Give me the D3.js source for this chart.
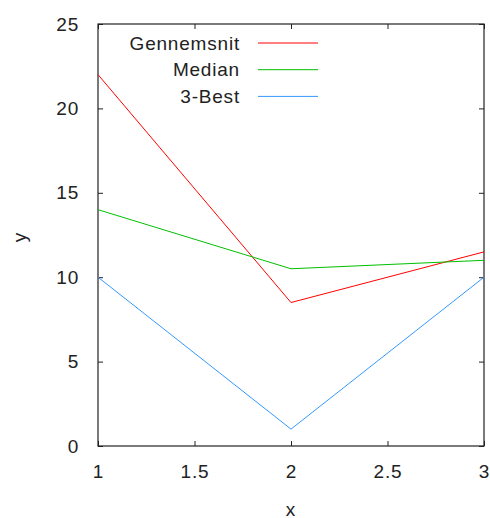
<!DOCTYPE html>
<html>
<head>
<meta charset="utf-8">
<script src="https://cdn.jsdelivr.net/npm/d3@7"></script>
<style>
  body { margin: 0; background: #fff; }
  svg text { font-family: "Liberation Sans", Arial, sans-serif; fill: #222; letter-spacing: 0.8px; }
</style>
</head>
<body>
<div id="chart"></div>
<script>
// data
const xs = [1, 2, 3];
const seriesNames = ["Gennemsnit", "Median", "3-Best"];
const gennemsnit = [22, 8.5, 11.5];
const median = [14, 10.5, 11];
const best3 = [10, 1, 10];
const colors = ["#ff0000", "#00c000", "#3399ff"];
const xTicks = [1, 1.5, 2, 2.5, 3];
const yTicks = [0, 5, 10, 15, 20, 25];

const config = { width: 490, height: 518, left: 98, right: 6, top: 24, bottom: 72 };
const w = config.width - config.left - config.right;
const h = config.height - config.top - config.bottom;
const fontSize = "19px";

const svg = d3.select("#chart")
  .append("svg")
  .attr("width", config.width)
  .attr("height", config.height);

const g = svg.append("g")
  .attr("transform", `translate(${config.left},${config.top})`);

const xScale = d3.scaleLinear().domain([1, 3]).range([0, w]);
const yScale = d3.scaleLinear().domain([0, 25]).range([h, 0]);

// axes with gnuplot-style inward ticks, mirrored on top/right
const tickLen = 5;
const styleAxis = sel => {
  sel.select(".domain").remove();
  sel.selectAll("line").attr("stroke", "#222");
  sel.selectAll("text").style("font-size", fontSize);
};

g.append("g")
  .attr("transform", `translate(0,${h})`)
  .call(d3.axisBottom(xScale).tickValues(xTicks).tickFormat(d3.format("")).tickSizeInner(-tickLen).tickPadding(19))
  .call(styleAxis);

g.append("g")
  .call(d3.axisLeft(yScale).tickValues(yTicks).tickSizeInner(-tickLen).tickPadding(19))
  .call(styleAxis);

g.append("g")
  .call(d3.axisTop(xScale).tickValues(xTicks).tickSizeInner(-tickLen).tickFormat(""))
  .call(styleAxis);

g.append("g")
  .attr("transform", `translate(${w},0)`)
  .call(d3.axisRight(yScale).tickValues(yTicks).tickSizeInner(-tickLen).tickFormat(""))
  .call(styleAxis);

// frame
g.append("rect")
  .attr("width", w)
  .attr("height", h)
  .attr("fill", "none")
  .attr("stroke", "#222")
  .attr("stroke-width", 1.2);

// lines
const allSeries = [gennemsnit, median, best3];
const line = d3.line()
  .x((d, i) => xScale(xs[i]))
  .y(d => yScale(d));

g.selectAll(".series")
  .data(allSeries)
  .enter()
  .append("path")
    .attr("class", "series")
    .attr("d", d => line(d))
    .attr("fill", "none")
    .attr("stroke", (d, i) => colors[i])
    .attr("stroke-width", 1);

// legend
const legend = g.append("g");
seriesNames.forEach((name, i) => {
  const ly = 19 + i * 26.7;
  legend.append("text")
    .attr("x", 142)
    .attr("y", ly)
    .attr("dy", "0.35em")
    .attr("text-anchor", "end")
    .style("font-size", fontSize)
    .text(name);
  legend.append("line")
    .attr("x1", 160)
    .attr("x2", 220)
    .attr("y1", ly)
    .attr("y2", ly)
    .attr("stroke", colors[i])
    .attr("stroke-width", 1);
});

// axis titles
svg.append("text")
  .attr("x", config.left + w / 2)
  .attr("y", 509)
  .attr("dy", "0.35em")
  .attr("text-anchor", "middle")
  .style("font-size", fontSize)
  .text("x");

svg.append("text")
  .attr("transform", "translate(19,237) rotate(-90)")
  .attr("dy", "0.35em")
  .attr("text-anchor", "middle")
  .style("font-size", fontSize)
  .text("y");
</script>
</body>
</html>
